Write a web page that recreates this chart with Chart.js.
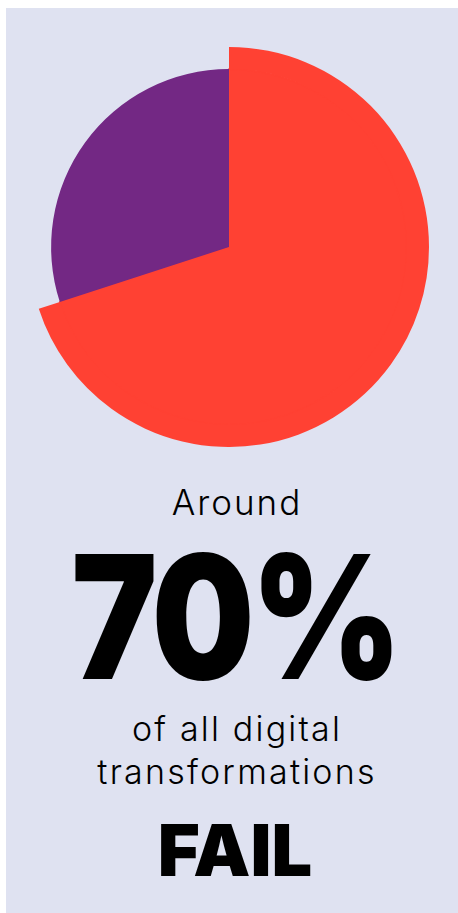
<!DOCTYPE html>
<html>
<head>
<meta charset="utf-8">
<script src="https://cdn.jsdelivr.net/npm/chart.js@4.4.1/dist/chart.umd.min.js"></script>
<style>
  html, body { margin: 0; padding: 0; background: #ffffff; }
  body { width: 458px; height: 913px; position: relative; overflow: hidden; }
  #panel { position: absolute; left: 6px; top: 8px; width: 452px; height: 905px; background: #dfe2f1; }
  #pieWrap { position: absolute; left: 29px; top: 47px; width: 400px; height: 400px; }
  .txt { position: absolute; left: 0; width: 470px; text-align: center; color: #000; font-family: Inter, "Open Sans", sans-serif; white-space: nowrap; }
  #around { top: 482px; font-size: 35px; font-weight: 300; line-height: 40px; letter-spacing: 2px; padding-left: 2px; }
  #big { top: 530px; font-size: 172px; font-weight: 900; line-height: 172px; letter-spacing: -4px; transform: scaleX(0.84); }
  #sub1 { top: 707px; font-size: 34px; font-weight: 300; line-height: 43px; letter-spacing: 2.2px; padding-left: 2px; }
  #fail { top: 810px; font-size: 72px; font-weight: 900; line-height: 80px; }
</style>
</head>
<body>
<div id="panel"></div>
<div id="pieWrap"><canvas id="pieChart" width="400" height="400"></canvas></div>
<div class="txt" id="around">Around</div>
<div class="txt" id="big">70%</div>
<div class="txt" id="sub1">of all digital<br>transformations</div>
<div class="txt" id="fail">FAIL</div>
<script>
  // share of digital transformations
  const categories = ["Fail", "Succeed"];
  const shareValues = [70, 30];
  const sliceColors = ["#ff4133", "#732884"];

  // outer ring only carries the failing slice, so it sticks out past the other one
  const outerColors = [sliceColors[0], "rgba(0,0,0,0)"];

  new Chart("pieChart", {
    type: "doughnut",
    data: {
      labels: categories,
      datasets: [
        {
          data: shareValues,
          backgroundColor: outerColors,
          borderWidth: 0,
          weight: 22
        },
        {
          data: shareValues,
          backgroundColor: sliceColors,
          borderColor: [sliceColors[0], sliceColors[1]],
          borderWidth: [2, 0],
          weight: 177
        }
      ]
    },
    options: {
      responsive: false,
      animation: false,
      cutout: 0,
      events: [],
      layout: { padding: 0 },
      plugins: {
        legend: { display: false },
        tooltip: { enabled: false }
      }
    }
  });
</script>
</body>
</html>
